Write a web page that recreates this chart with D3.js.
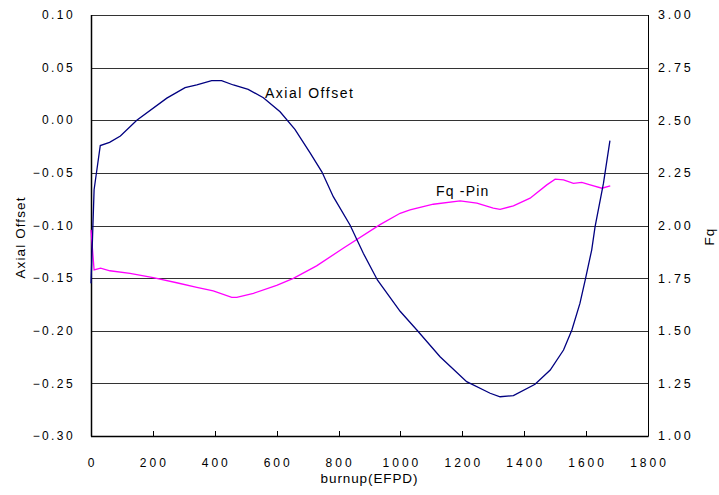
<!DOCTYPE html>
<html>
<head>
<meta charset="utf-8">
<script src="https://cdn.jsdelivr.net/npm/d3@7"></script>
<style>
  body { margin: 0; background: #fff; }
  text { font-family: "Liberation Sans", Arial, sans-serif; fill: #000; }
</style>
</head>
<body>
<svg id="chart" width="719" height="495"></svg>
<script>
// Axial offset series (left axis)
var aoBurnup = [0, 10, 30, 60, 95, 148, 245, 304, 342, 390, 422, 460, 508, 557, 611, 659, 708, 746, 783, 837, 880, 926, 999, 1053, 1128, 1214, 1290, 1322, 1365, 1435, 1484, 1527, 1554, 1580, 1597, 1618, 1629, 1656, 1677];
var aoValues = [-0.155, -0.066, -0.024, -0.021, -0.015, 0.0, 0.021, 0.031, 0.0335, 0.0376, 0.0376, 0.0335, 0.0294, 0.0214, 0.0081, -0.0086, -0.031, -0.049, -0.0726, -0.0995, -0.1264, -0.152, -0.1815, -0.1993, -0.2247, -0.2484, -0.2594, -0.2627, -0.2617, -0.2509, -0.2373, -0.2183, -0.1993, -0.174, -0.1518, -0.1233, -0.101, -0.06, -0.0194];

// Fq-Pin series (right axis)
var fqBurnup = [0, 10, 31, 61, 126, 201, 277, 342, 395, 455, 471, 525, 600, 654, 729, 815, 934, 999, 1031, 1106, 1193, 1247, 1300, 1322, 1365, 1419, 1473, 1500, 1527, 1559, 1586, 1613, 1651, 1678];
var fqValues = [1.979, 1.789, 1.797, 1.785, 1.773, 1.752, 1.728, 1.706, 1.689, 1.659, 1.659, 1.678, 1.716, 1.749, 1.808, 1.892, 2.004, 2.058, 2.074, 2.101, 2.117, 2.106, 2.082, 2.077, 2.093, 2.130, 2.193, 2.220, 2.217, 2.200, 2.205, 2.193, 2.177, 2.188];

// Tick labels
var xTicks = [0, 200, 400, 600, 800, 1000, 1200, 1400, 1600, 1800];
var leftTicks = [-0.30, -0.25, -0.20, -0.15, -0.10, -0.05, 0.00, 0.05, 0.10];
var rightTicks = [1.00, 1.25, 1.50, 1.75, 2.00, 2.25, 2.50, 2.75, 3.00];

var margin = {top: 15, right: 71, bottom: 59, left: 91};
var width = 719 - margin.left - margin.right,
  height = 495 - margin.top - margin.bottom;

var svg = d3.select("#chart")
  .append("g")
  .attr("transform", "translate(" + margin.left + "," + margin.top + ")");

var x = d3.scaleLinear().domain([0, 1800]).range([0, width]);
var yL = d3.scaleLinear().domain([-0.30, 0.10]).range([height, 0]);
var yR = d3.scaleLinear().domain([1.00, 3.00]).range([height, 0]);

// horizontal gridlines
svg.selectAll(".grid")
  .data(leftTicks)
  .enter().append("line")
  .attr("x1", 0)
  .attr("x2", width)
  .attr("y1", function(d) { return Math.round(yL(d)) + 0.5; })
  .attr("y2", function(d) { return Math.round(yL(d)) + 0.5; })
  .attr("stroke", "#333")
  .attr("stroke-width", 1);

// frame: left, right, bottom
svg.append("line").attr("x1", 0.5).attr("x2", 0.5).attr("y1", 0).attr("y2", height + 0.5)
  .attr("stroke", "#000").attr("stroke-width", 1.5);
svg.append("line").attr("x1", width + 0.5).attr("x2", width + 0.5).attr("y1", 0).attr("y2", height + 0.5)
  .attr("stroke", "#000").attr("stroke-width", 1);
svg.append("line").attr("x1", 0).attr("x2", width + 0.5).attr("y1", height + 0.5).attr("y2", height + 0.5)
  .attr("stroke", "#000").attr("stroke-width", 1.5);

// x ticks (inward) and labels
svg.selectAll(".xtick")
  .data(xTicks.slice(1, -1))
  .enter().append("line")
  .attr("x1", function(d) { return Math.round(x(d)) + 0.5; })
  .attr("x2", function(d) { return Math.round(x(d)) + 0.5; })
  .attr("y1", height)
  .attr("y2", height - 5)
  .attr("stroke", "#000");

svg.selectAll(".xlab")
  .data(xTicks)
  .enter().append("text")
  .attr("x", function(d) { return x(d) + 1.5; })
  .attr("y", height + 31)
  .attr("text-anchor", "middle")
  .style("font-size", "12px")
  .style("letter-spacing", "3px")
  .text(function(d) { return d; });

// left labels
svg.selectAll(".ylab")
  .data(leftTicks)
  .enter().append("text")
  .attr("x", -16)
  .attr("y", function(d) { return yL(d); })
  .attr("dy", "0.35em")
  .attr("text-anchor", "end")
  .style("font-size", "12px")
  .style("letter-spacing", "2.4px")
  .text(function(d) { return d3.format(".2f")(d); });

// right labels
svg.selectAll(".rlab")
  .data(rightTicks)
  .enter().append("text")
  .attr("x", width + 10)
  .attr("y", function(d) { return yR(d); })
  .attr("dy", "0.35em")
  .attr("text-anchor", "start")
  .style("font-size", "12.5px")
  .style("letter-spacing", "2.8px")
  .text(function(d) { return d3.format(".2f")(d); });

// axis titles
svg.append("text")
  .attr("transform", "translate(" + (-66) + "," + (height / 2 + 12) + ") rotate(-90)")
  .attr("text-anchor", "middle")
  .style("font-size", "13.5px")
  .style("letter-spacing", "1.1px")
  .text("Axial Offset");

svg.append("text")
  .attr("transform", "translate(" + (width + 66) + "," + (height / 2 + 11) + ") rotate(-90)")
  .attr("text-anchor", "middle")
  .style("font-size", "13.5px")
  .style("letter-spacing", "1px")
  .text("Fq");

svg.append("text")
  .attr("x", x(900))
  .attr("y", height + 47)
  .attr("text-anchor", "middle")
  .style("font-size", "13.5px")
  .style("letter-spacing", "0.9px")
  .text("burnup(EFPD)");

// lines
var aoLine = d3.line()
  .x(function(d, i) { return x(aoBurnup[i]); })
  .y(function(d) { return yL(d); });

var fqLine = d3.line()
  .x(function(d, i) { return x(fqBurnup[i]); })
  .y(function(d) { return yR(d); });

svg.append("path")
  .attr("d", fqLine(fqValues))
  .attr("fill", "none")
  .attr("stroke", "#ff00ff")
  .attr("stroke-width", 1.3);

svg.append("path")
  .attr("d", aoLine(aoValues))
  .attr("fill", "none")
  .attr("stroke", "#000080")
  .attr("stroke-width", 1.3);

// series labels
svg.append("text")
  .attr("x", 265 - margin.left)
  .attr("y", 98 - margin.top)
  .style("font-size", "14px")
  .style("letter-spacing", "1.5px")
  .text("Axial Offset");

svg.append("text")
  .attr("x", 436 - margin.left)
  .attr("y", 196 - margin.top)
  .style("font-size", "14px")
  .style("letter-spacing", "1.2px")
  .text("Fq -Pin");
</script>
</body>
</html>
